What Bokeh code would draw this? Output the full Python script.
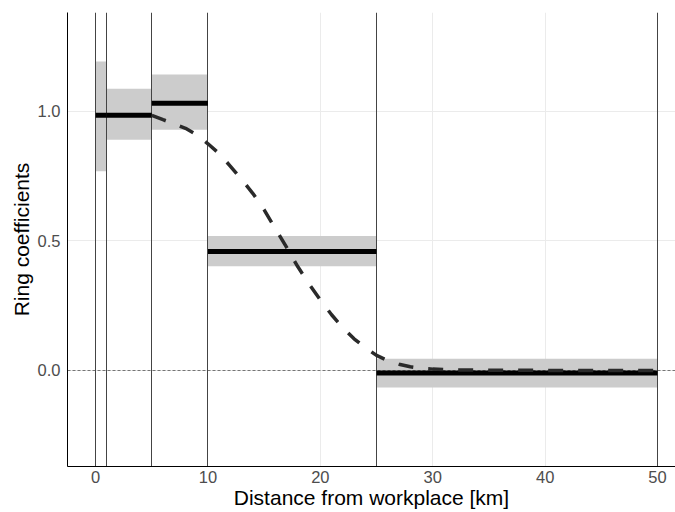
from bokeh.plotting import figure
from bokeh.models import Range1d, FixedTicker, PrintfTickFormatter
from bokeh.embed import file_html
from bokeh.resources import INLINE

# ---- data ----
ring_start = [0, 1, 5, 10, 25]
ring_end = [1, 5, 10, 25, 50]
coef = [0.985, 0.985, 1.032, 0.459, -0.010]
ci_low = [0.769, 0.891, 0.929, 0.402, -0.066]
ci_high = [1.193, 1.088, 1.143, 0.519, 0.045]
ring_breaks = [0, 1, 5, 10, 25, 50]

curve_x = [5, 6, 7, 8, 9, 10, 11, 12, 13, 14, 15, 16, 17, 18, 19, 20,
           21, 22, 23, 24, 25, 26, 27, 28, 29, 30, 32, 35, 40, 45, 50]
curve_y = [0.985, 0.968, 0.952, 0.935, 0.910, 0.875, 0.837, 0.788, 0.737,
           0.683, 0.620, 0.547, 0.475, 0.400, 0.333, 0.272, 0.215, 0.165,
           0.122, 0.088, 0.058, 0.038, 0.024, 0.014, 0.008, 0.005, 0.002,
           0.001, 0.0, 0.0, 0.0]

x_ticks = [0, 10, 20, 30, 40, 50]
y_ticks = [0.0, 0.5, 1.0]

FONT = "Liberation Sans"

p = figure(width=675, height=512, output_backend="svg", toolbar_location=None,
           x_range=Range1d(-2.5, 51.6), y_range=Range1d(-0.371, 1.382),
           min_border_left=67, min_border_right=0, min_border_top=12,
           min_border_bottom=46)
p.outline_line_color = None
p.background_fill_color = "white"
p.border_fill_color = "white"

# grid
p.xgrid.ticker = FixedTicker(ticks=x_ticks)
p.ygrid.ticker = FixedTicker(ticks=y_ticks)
for g in (p.xgrid, p.ygrid):
    g.grid_line_color = "#ebebeb"
    g.grid_line_width = 1

# axes
p.xaxis.ticker = FixedTicker(ticks=x_ticks)
p.yaxis.ticker = FixedTicker(ticks=y_ticks)
p.yaxis.formatter = PrintfTickFormatter(format="%.1f")
p.xaxis.axis_label = "Distance from workplace [km]"
p.yaxis.axis_label = "Ring coefficients"
for ax in (p.xaxis, p.yaxis):
    ax.axis_line_color = "black"
    ax.axis_line_width = 1
    ax.major_tick_line_color = None
    ax.minor_tick_line_color = None
    ax.major_tick_out = 0
    ax.major_tick_in = 0
    ax.major_label_text_font = FONT
    ax.major_label_text_font_size = "16.5px"
    ax.major_label_text_color = "#4d4d4d"
    ax.axis_label_text_font = FONT
    ax.axis_label_text_font_size = "21px"
    ax.axis_label_text_font_style = "normal"
    ax.axis_label_text_color = "black"
p.xaxis.major_label_standoff = 4
p.xaxis.axis_label_standoff = 0
p.yaxis.major_label_standoff = 7
p.yaxis.axis_label_standoff = 2

# confidence ribbons
p.quad(left=ring_start, right=ring_end, bottom=ci_low, top=ci_high,
       fill_color="#cccccc", line_color=None)

# ring boundaries
p.vspan(x=ring_breaks, line_color="#444444", line_width=1)

# zero line
p.hspan(y=[0], line_color="#444444", line_width=0.7, line_dash="3 2")

# coefficient estimates
p.segment(x0=ring_start, x1=ring_end, y0=coef, y1=coef,
          line_color="black", line_width=5)

# smooth decay curve
p.line(curve_x, curve_y, line_color="#2a2a2a", line_width=3.5,
       line_dash="15 15")

open("out.html", "w").write(file_html(p, INLINE))
